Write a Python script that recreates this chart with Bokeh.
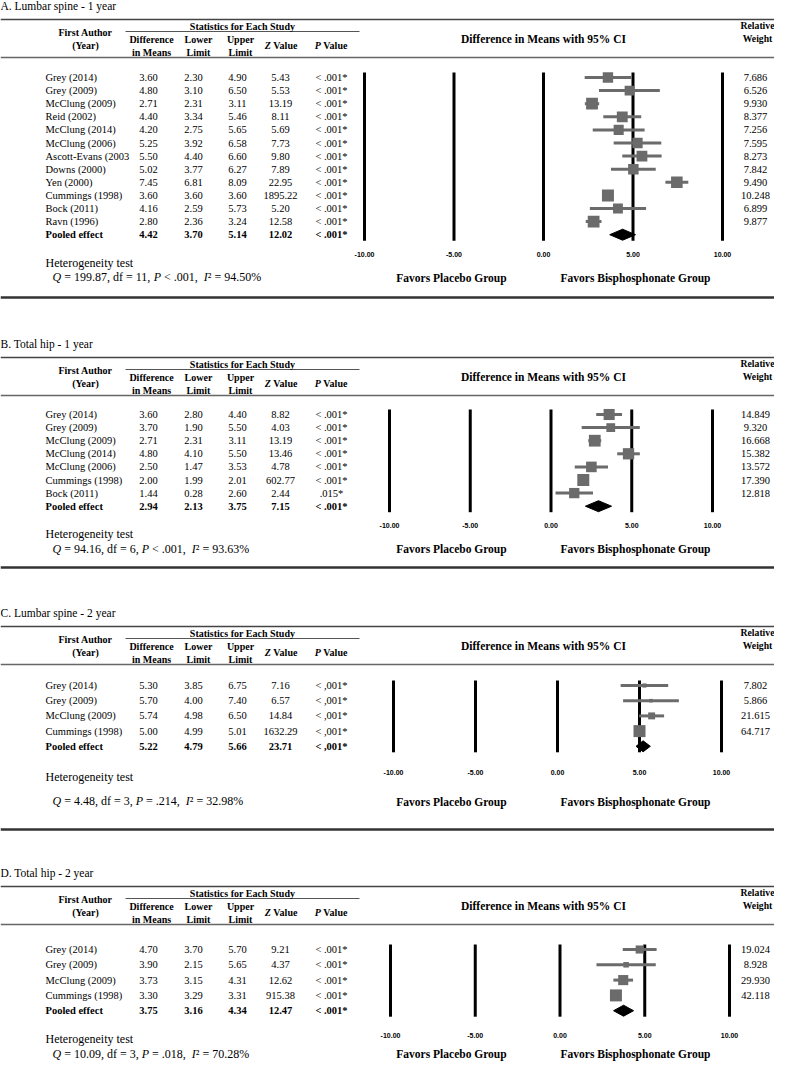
import numpy as np
from bokeh.plotting import figure
from bokeh.models import Range1d, ColumnDataSource
from bokeh.core.properties import value
from bokeh.embed import file_html
from bokeh.resources import INLINE

# ---------------- data ----------------
A_title = "A. Lumbar spine - 1 year"
A_authors = ["Grey (2014)", "Grey (2009)", "McClung (2009)", "Reid (2002)", "McClung (2014)",
             "McClung (2006)", "Ascott-Evans (2003", "Downs (2000)", "Yen (2000)",
             "Cummings (1998)", "Bock (2011)", "Ravn (1996)"]
A_diff = [3.60, 4.80, 2.71, 4.40, 4.20, 5.25, 5.50, 5.02, 7.45, 3.60, 4.16, 2.80]
A_lower = [2.30, 3.10, 2.31, 3.34, 2.75, 3.92, 4.40, 3.77, 6.81, 3.60, 2.59, 2.36]
A_upper = [4.90, 6.50, 3.11, 5.46, 5.65, 6.58, 6.60, 6.27, 8.09, 3.60, 5.73, 3.24]
A_z = [5.43, 5.53, 13.19, 8.11, 5.69, 7.73, 9.80, 7.89, 22.95, 1895.22, 5.20, 12.58]
A_p = ["< .001*"] * 12
A_weight = [7.686, 6.526, 9.930, 8.377, 7.256, 7.595, 8.273, 7.842, 9.490, 10.248, 6.899, 9.877]
A_pooled = [4.42, 3.70, 5.14, 12.02]
A_pooled_p = "< .001*"
A_het = [199.87, 11, "< .001", 94.50]

B_title = "B. Total hip  - 1 year"
B_authors = ["Grey (2014)", "Grey (2009)", "McClung (2009)", "McClung (2014)", "McClung (2006)",
             "Cummings (1998)", "Bock (2011)"]
B_diff = [3.60, 3.70, 2.71, 4.80, 2.50, 2.00, 1.44]
B_lower = [2.80, 1.90, 2.31, 4.10, 1.47, 1.99, 0.28]
B_upper = [4.40, 5.50, 3.11, 5.50, 3.53, 2.01, 2.60]
B_z = [8.82, 4.03, 13.19, 13.46, 4.78, 602.77, 2.44]
B_p = ["< .001*"] * 6 + [".015*"]
B_weight = [14.849, 9.320, 16.668, 15.382, 13.572, 17.390, 12.818]
B_pooled = [2.94, 2.13, 3.75, 7.15]
B_pooled_p = "< .001*"
B_het = [94.16, 6, "< .001", 93.63]

C_title = "C. Lumbar spine - 2 year"
C_authors = ["Grey (2014)", "Grey (2009)", "McClung (2009)", "Cummings (1998)"]
C_diff = [5.30, 5.70, 5.74, 5.00]
C_lower = [3.85, 4.00, 4.98, 4.99]
C_upper = [6.75, 7.40, 6.50, 5.01]
C_z = [7.16, 6.57, 14.84, 1632.29]
C_p = ["< ,001*"] * 4
C_weight = [7.802, 5.866, 21.615, 64.717]
C_pooled = [5.22, 4.79, 5.66, 23.71]
C_pooled_p = "< ,001*"
C_het = [4.48, 3, "= .214", 32.98]

D_title = "D. Total hip  - 2 year"
D_authors = ["Grey (2014)", "Grey (2009)", "McClung (2009)", "Cummings (1998)"]
D_diff = [4.70, 3.90, 3.73, 3.30]
D_lower = [3.70, 2.15, 3.15, 3.29]
D_upper = [5.70, 5.65, 4.31, 3.31]
D_z = [9.21, 4.37, 12.62, 915.38]
D_p = ["< .001*"] * 4
D_weight = [19.024, 8.928, 29.930, 42.118]
D_pooled = [3.75, 3.16, 4.34, 12.47]
D_pooled_p = "< .001*"
D_het = [10.09, 3, "= .018", 70.28]

tick_values = [-10, -5, 0, 5, 10]
tick_labels = ["-10.00", "-5.00", "0.00", "5.00", "10.00"]

# ---------------- layout (reference pixel coordinates) ----------------
panels = [
    dict(title=A_title, authors=A_authors, diff=A_diff, lower=A_lower, upper=A_upper, z=A_z, p=A_p,
         w=A_weight, pooled=A_pooled, pooled_p=A_pooled_p, het=A_het,
         top=22, row0=80, dy=13.1, p1=367, p2=725, tick_y=257, het_y=265, q_y=279, fav_y=280, sep=300),
    dict(title=B_title, authors=B_authors, diff=B_diff, lower=B_lower, upper=B_upper, z=B_z, p=B_p,
         w=B_weight, pooled=B_pooled, pooled_p=B_pooled_p, het=B_het,
         top=360, row0=417, dy=13.1, p1=392, p2=715, tick_y=528, het_y=536, q_y=551, fav_y=551, sep=570),
    dict(title=C_title, authors=C_authors, diff=C_diff, lower=C_lower, upper=C_upper, z=C_z, p=C_p,
         w=C_weight, pooled=C_pooled, pooled_p=C_pooled_p, het=C_het,
         top=629, row0=688, dy=15.2, p1=396, p2=724, tick_y=775, het_y=779, q_y=803, fav_y=804, sep=832),
    dict(title=D_title, authors=D_authors, diff=D_diff, lower=D_lower, upper=D_upper, z=D_z, p=D_p,
         w=D_weight, pooled=D_pooled, pooled_p=D_pooled_p, het=D_het,
         top=889, row0=952, dy=15.3, p1=393, p2=732, tick_y=1038, het_y=1041, q_y=1056, fav_y=1056, sep=None),
]

# visible window of the reference coordinate system (1:1 pixel scale)
X0, X1 = 3, 777
Y0, Y1 = 3, 1068
FIG_W, FIG_H = X1 - X0, Y1 - Y0
SCALE = 1.0
SERIF = "Liberation Serif"
SANS = "Liberation Sans"
GRAY = "#6b6b6b"

p = figure(width=FIG_W, height=FIG_H, x_range=Range1d(X0, X1), y_range=Range1d(Y1, Y0),
           output_backend="svg", toolbar_location=None, min_border=0,
           x_axis_location=None, y_axis_location=None, outline_line_color=None)
p.grid.grid_line_color = None
p.background_fill_color = "white"

extra_x, extra_y = {}, {}


def txt(xs, ys, texts, size, bold=False, italic=False, align="left", xr="default", yr="default",
        font=SERIF, color="black"):
    style = "bold italic" if (bold and italic) else "bold" if bold else "italic" if italic else "normal"
    src = ColumnDataSource(dict(x=list(xs), y=list(ys), t=list(texts)))
    p.text(x="x", y="y", text="t", source=src, text_font=value(font), text_font_size=f"{size}px",
           text_font_style=style, text_align=align, text_baseline="middle", text_color=color,
           x_range_name=xr, y_range_name=yr)


# Times-like advance widths (per 1000 em) for placing mixed-style runs
TW = {' ': 250, '%': 833, ',': 250, '.': 250, '<': 564, '=': 564, 'd': 500, 'f': 333, '\u00b2': 300}
TW_IT = {'Q': 722, 'P': 611, 'I': 333}
TW_B = {' ': 250, 'V': 722, 'a': 500, 'l': 278, 'u': 556, 'e': 444, 'Z': 611, 'P': 611}


def width(s, size, table):
    return sum(table.get(c, 500) for c in s) * size / 1000.0 / SCALE


def runs(x0, y, pieces, size, bold_base=False):
    x = x0
    for s, it in pieces:
        table = TW_B if bold_base else (TW_IT if it else TW)
        lead = len(s) - len(s.lstrip(' '))
        x += lead * 250 * size / 1000.0 / SCALE
        core = s.strip(' ')
        txt([x], [y], [core], size, bold=bold_base, italic=it)
        x += width(core, size, table)
        trail = len(s.lstrip(' ')) - len(core)
        x += trail * 250 * size / 1000.0 / SCALE


HDR = 10
BODY = 10.5
val_cols = [151, 196, 240, 283, 334]
name_x = 48
wt_x = 758

for i, P in enumerate(panels):
    top, row0, dy = P["top"], P["row0"], P["dy"]
    n = len(P["authors"])
    fxn, ryn = f"fx{i}", f"ry{i}"
    k = (P["p2"] - P["p1"]) / 20.0
    extra_x[fxn] = Range1d(-10 + (X0 - P["p1"]) / k, -10 + (X1 - P["p1"]) / k)
    extra_y[ryn] = Range1d((Y1 - row0) / dy, (Y0 - row0) / dy)

    # title and rules
    txt([3], [top - 14], [P["title"]], 11.5)
    p.segment(x0=[X0], x1=[X1], y0=[top], y1=[top], line_color="#444444", line_width=1.6)
    p.segment(x0=[128], x1=[362], y0=[top + 12], y1=[top + 12], line_color="#555555", line_width=1)
    p.segment(x0=[X0], x1=[X1], y0=[top + 38], y1=[top + 38], line_color="#666666", line_width=1.4)
    if P["sep"] is not None:
        p.segment(x0=[X0], x1=[X1], y0=[P["sep"]], y1=[P["sep"]], line_color="#333333", line_width=2.5)

    # headers
    txt([88, 88], [top + 13, top + 26], ["First Author", "(Year)"], HDR, bold=True, align="center")
    txt([245], [top + 7], ["Statistics for Each Study"], HDR, bold=True, align="center")
    txt([154, 201, 243], [top + 20] * 3, ["Difference", "Lower", "Upper"], HDR, bold=True, align="center")
    txt([154, 201, 243], [top + 33] * 3, ["in Means", "Limit", "Limit"], HDR, bold=True, align="center")
    for letter, cx in (("Z", 284), ("P", 334)):
        tot = width(letter, HDR, TW_B) + width(" Value", HDR, TW_B)
        runs(cx - tot / 2, top + 26, [(letter, True), (" Value", False)], HDR, bold_base=True)
    txt([546], [top + 19], ["Difference in Means with 95% CI"], 11.5, bold=True, align="center")
    txt([760, 760], [top + 6, top + 19], ["Relative", "Weight"], 9.7, bold=True, align="center")

    # table body
    rows = list(range(n))
    txt([name_x] * n, rows, P["authors"], BODY, yr=ryn)
    cols = [[f"{v:.2f}" for v in P["diff"]], [f"{v:.2f}" for v in P["lower"]],
            [f"{v:.2f}" for v in P["upper"]], [f"{v:.2f}" for v in P["z"]], P["p"]]
    for cx, col in zip(val_cols, cols):
        txt([cx] * n, rows, col, BODY, align="center", yr=ryn)
    txt([wt_x] * n, rows, [f"{v:.3f}" for v in P["w"]], BODY, align="center", yr=ryn)
    pooled_txt = [f"{v:.2f}" for v in P["pooled"]] + [P["pooled_p"]]
    txt([name_x], [n], ["Pooled effect"], BODY, bold=True, yr=ryn)
    txt(val_cols, [n] * 5, pooled_txt, BODY, bold=True, align="center", yr=ryn)

    # forest plot
    p.segment(x0=tick_values, x1=tick_values, y0=[-5 / dy] * 5, y1=[n + 6 / dy] * 5,
              x_range_name=fxn, y_range_name=ryn, line_color="black", line_width=3)
    txt(tick_values, [P["tick_y"]] * 5, tick_labels, 7, bold=True, align="center", xr=fxn, font=SANS)
    p.segment(x0=P["lower"], x1=P["upper"], y0=rows, y1=rows, x_range_name=fxn, y_range_name=ryn,
              line_color=GRAY, line_width=3)
    wmax = max(P["w"])
    sizes = [12 * np.sqrt(wi / wmax) for wi in P["w"]]
    p.scatter(x=P["diff"], y=rows, size=sizes, marker="square", fill_color=GRAY, line_color=None,
              x_range_name=fxn, y_range_name=ryn)
    est, lo, hi = P["pooled"][0], P["pooled"][1], P["pooled"][2]
    h = 5.5 / dy
    p.patch(x=[lo, est, hi, est], y=[n, n - h, n, n + h], fill_color="black", line_color="black",
            line_width=1, x_range_name=fxn, y_range_name=ryn)

    # footer
    txt([454], [P["fav_y"]], ["Favors Placebo Group"], 11.5, bold=True, align="center")
    txt([638], [P["fav_y"]], ["Favors Bisphosphonate Group"], 11.5, bold=True, align="center")
    txt([48], [P["het_y"]], ["Heterogeneity test"], 12)
    Q, df, Pstr, I2 = P["het"]
    runs(55, P["q_y"], [("Q", True), (f" = {Q:.2f}, df = {df}, ", False), ("P", True),
                        (f" {Pstr},  ", False), ("I", True), (f"\u00b2 = {I2:.2f}%", False)], 12)

p.extra_x_ranges = extra_x
p.extra_y_ranges = extra_y

open("out.html", "w").write(file_html(p, INLINE))
